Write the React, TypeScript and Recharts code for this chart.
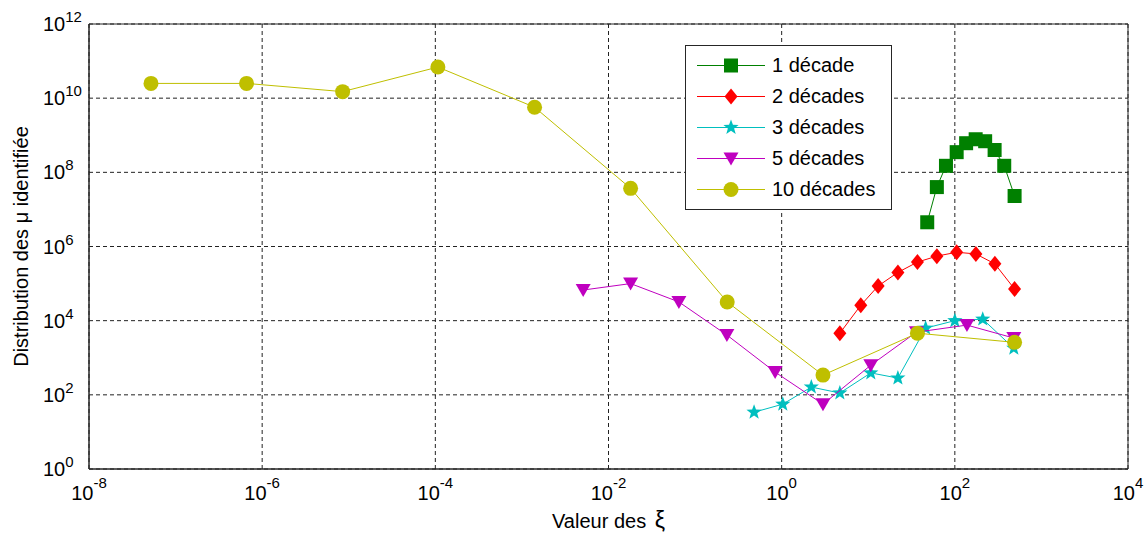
import React from "react";
import {
  ScatterChart,
  Scatter,
  XAxis,
  YAxis,
  CartesianGrid,
  Legend,
  ReferenceArea,
  Label,
} from "recharts";

const FONT = '"Liberation Sans", Arial, Helvetica, sans-serif';

const xTicks = [1e-8, 1e-6, 1e-4, 1e-2, 1, 1e2, 1e4];
const yTicks = [1, 1e2, 1e4, 1e6, 1e8, 1e10, 1e12];

// 1 décade
const xi1 = [48, 62, 79, 105, 135, 174, 224, 288, 372, 490];
const mu1 = [4.5e6, 4.0e7, 1.5e8, 3.5e8, 6.1e8, 7.8e8, 6.9e8, 4.0e8, 1.5e8, 2.3e7];
// 2 décades
const xi2 = [4.7, 8.2, 13, 22, 37, 62, 105, 175, 290, 490];
const mu2 = [4.6e3, 2.6e4, 8.6e4, 2.0e5, 3.8e5, 5.5e5, 7.0e5, 6.3e5, 3.4e5, 7.1e4];
// 3 décades
const xi3 = [0.48, 1.03, 2.2, 4.7, 10.7, 22, 46, 100, 210, 480];
const mu3 = [34, 56, 162, 112, 390, 283, 6.3e3, 1.0e4, 1.1e4, 1.8e3];
// 5 décades
const xi5 = [5.1e-3, 0.018, 0.065, 0.233, 0.84, 3.0, 10.7, 36, 138, 480];
const mu5 = [6.7e4, 1.0e5, 3.2e4, 4.1e3, 410, 56, 630, 4.9e3, 7.6e3, 3.4e3];
// 10 décades
const xi10 = [5.2e-8, 6.6e-7, 8.5e-6, 1.07e-4, 1.4e-3, 1.8e-2, 0.235, 3.0, 37, 490];
const mu10 = [2.5e10, 2.5e10, 1.5e10, 6.9e10, 5.7e9, 3.7e7, 3.2e4, 340, 4.6e3, 2.6e3];

type Shape = "square" | "diamond" | "star" | "tri" | "circle";

const zip = (xs: number[], ys: number[]) => xs.map((x, i) => ({ x, y: ys[i] }));

const series: { name: string; color: string; shape: Shape; data: { x: number; y: number }[] }[] = [
  { name: "1 décade", color: "#008000", shape: "square", data: zip(xi1, mu1) },
  { name: "2 décades", color: "#ff0000", shape: "diamond", data: zip(xi2, mu2) },
  { name: "3 décades", color: "#00bfbf", shape: "star", data: zip(xi3, mu3) },
  { name: "5 décades", color: "#bf00bf", shape: "tri", data: zip(xi5, mu5) },
  { name: "10 décades", color: "#bfbf00", shape: "circle", data: zip(xi10, mu10) },
];

function marker(shape: Shape, cx: number, cy: number, color: string) {
  if (cx == null || cy == null) return <g />;
  switch (shape) {
    case "square":
      return <rect x={cx - 7} y={cy - 7} width={14} height={14} fill={color} />;
    case "diamond":
      return (
        <polygon
          points={`${cx},${cy - 8} ${cx + 6.5},${cy} ${cx},${cy + 8} ${cx - 6.5},${cy}`}
          fill={color}
        />
      );
    case "star": {
      const pts: string[] = [];
      for (let i = 0; i < 10; i++) {
        const r = i % 2 === 0 ? 8 : 3.3;
        const a = -Math.PI / 2 + (i * Math.PI) / 5;
        pts.push(`${cx + r * Math.cos(a)},${cy + r * Math.sin(a)}`);
      }
      return <polygon points={pts.join(" ")} fill={color} />;
    }
    case "tri":
      return (
        <polygon
          points={`${cx - 7.5},${cy - 6} ${cx + 7.5},${cy - 6} ${cx},${cy + 7}`}
          fill={color}
        />
      );
    default:
      return <circle cx={cx} cy={cy} r={7.5} fill={color} />;
  }
}

const XTick = ({ x, y, payload }: any) => {
  const e = Math.round(Math.log10(payload.value));
  return (
    <text x={x} y={y + 31} textAnchor="middle" fontFamily={FONT} fontSize={20} fill="#000">
      <tspan>10</tspan>
      <tspan dy={-12} fontSize={15}>
        {e}
      </tspan>
    </text>
  );
};

const YTick = ({ x, y, payload }: any) => {
  const e = Math.round(Math.log10(payload.value));
  return (
    <text x={x - 46} y={y + 7} textAnchor="start" fontFamily={FONT} fontSize={20} fill="#000">
      <tspan>10</tspan>
      <tspan dy={-9} fontSize={15}>
        {e}
      </tspan>
    </text>
  );
};

const LegendBox = () => (
  <div
    style={{
      width: 207,
      height: 165,
      border: "1px solid #262626",
      background: "#fff",
      boxSizing: "border-box",
      paddingTop: 4,
      fontFamily: FONT,
      fontSize: 20,
      color: "#000",
    }}
  >
    {series.map((s) => (
      <div key={s.name} style={{ display: "flex", alignItems: "center", height: 31 }}>
        <svg width={82} height={31} style={{ display: "block" }}>
          <line x1={11} x2={79} y1={15.5} y2={15.5} stroke={s.color} strokeWidth={1} />
          {marker(s.shape, 45, 15.5, s.color)}
        </svg>
        <span style={{ marginLeft: 4, whiteSpace: "nowrap" }}>{s.name}</span>
      </div>
    ))}
  </div>
);

export default function App() {
  return (
    <div style={{ position: "absolute", left: 0, top: 0, background: "#fff" }}>
      <ScatterChart width={1147} height={540} margin={{ top: 24, right: 19, bottom: 0, left: 0 }}>
        <CartesianGrid stroke="#222" strokeDasharray="4 3" />
        <XAxis
          dataKey="x"
          type="number"
          scale="log"
          domain={[1e-8, 1e4]}
          ticks={xTicks}
          allowDataOverflow
          height={71}
          tickLine={false}
          tickSize={0}
          tickMargin={0}
          tick={<XTick />}
          stroke="#262626"
          interval={0}
        >
          <Label
            content={({ viewBox }: any) => (
              <text
                x={viewBox.x + viewBox.width / 2}
                y={528}
                textAnchor="middle"
                fontFamily={FONT}
                fontSize={20}
                fill="#000"
              >
                Valeur des <tspan fontSize={23} dx={3}>ξ</tspan>
              </text>
            )}
          />
        </XAxis>
        <YAxis
          dataKey="y"
          type="number"
          scale="log"
          domain={[1, 1e12]}
          ticks={yTicks}
          allowDataOverflow
          width={89}
          tickLine={false}
          tickSize={0}
          tickMargin={0}
          tick={<YTick />}
          stroke="#262626"
          interval={0}
        >
          <Label
            content={({ viewBox }: any) => {
              const cy = viewBox.y + viewBox.height / 2;
              return (
                <text
                  x={28}
                  y={cy}
                  transform={`rotate(-90, 28, ${cy})`}
                  textAnchor="middle"
                  fontFamily={FONT}
                  fontSize={20}
                  fill="#000"
                >
                  Distribution des μ identifiée
                </text>
              );
            }}
          />
        </YAxis>
        <ReferenceArea x1={1e-8} x2={1e4} y1={1} y2={1e12} fill="none" stroke="#262626" strokeWidth={1} />
        {series.map((s) => (
          <Scatter
            key={s.name}
            name={s.name}
            data={s.data}
            fill={s.color}
            line={{ stroke: s.color, strokeWidth: 1 }}
            lineType="joint"
            shape={(p: any) => marker(s.shape, p.cx, p.cy, s.color)}
            isAnimationActive={false}
          />
        ))}
        <Legend
          layout="horizontal"
          verticalAlign="middle"
          align="center"
          wrapperStyle={{ left: 685, top: 45, width: 207, height: 165 }}
          content={() => <LegendBox />}
        />
      </ScatterChart>
    </div>
  );
}
